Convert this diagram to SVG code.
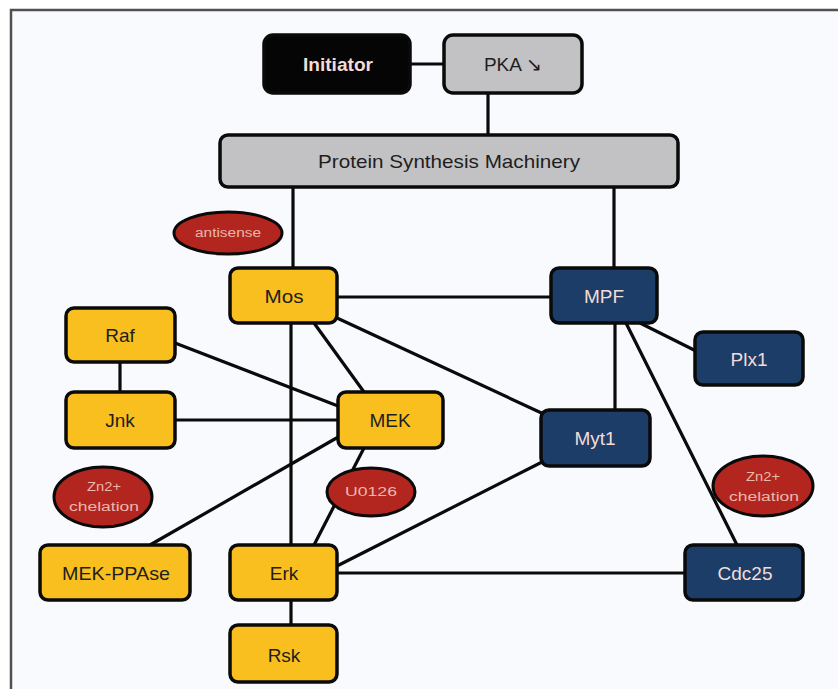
<svg xmlns="http://www.w3.org/2000/svg" width="838" height="689" viewBox="0 0 838 689">
  <style>
    .box { stroke: #0a0a0a; stroke-width: 3.5; }
    .yel { fill: #f9bf1f; }
    .navy { fill: #1b3d68; }
    .gray { fill: #c2c2c4; }
    .blk { fill: #050505; }
    .inh { fill: #b3261f; stroke: #0a0a0a; stroke-width: 3; }
    .t { font-family: "Liberation Sans", Arial, sans-serif; font-size: 19px; text-anchor: middle; dominant-baseline: central; }
    .dark { fill: #1e1e1e; }
    .light { fill: #f4dcd6; }
    .small { font-family: "Liberation Sans", Arial, sans-serif; font-size: 12px; text-anchor: middle; dominant-baseline: central; fill: #e9b8ad; }
    #links line { stroke: #0a0a0a; stroke-width: 3.2; }
  </style>

  <!-- page background and frame -->
  <rect x="0" y="0" width="838" height="689" fill="#ffffff"/>
  <rect x="10" y="9" width="828" height="680" fill="#f9fafd"/>
  <path d="M11 689 V10 H838" fill="none" stroke="#505050" stroke-width="2.5"/>

  <!-- connectors -->
  <g id="links">
    <line x1="410" y1="64" x2="444" y2="64"/>
    <line x1="488" y1="93" x2="488" y2="135"/>
    <line x1="293" y1="187" x2="293" y2="268"/>
    <line x1="614" y1="187" x2="614" y2="268"/>
    <line x1="337" y1="297" x2="551" y2="297"/>
    <line x1="291" y1="323" x2="291" y2="545"/>
    <line x1="314" y1="323" x2="364" y2="392"/>
    <line x1="337" y1="318" x2="548" y2="416"/>
    <line x1="175" y1="343" x2="338" y2="406"/>
    <line x1="120" y1="362" x2="120" y2="392"/>
    <line x1="175" y1="420" x2="338" y2="420"/>
    <line x1="340" y1="436" x2="150" y2="545"/>
    <line x1="364" y1="448" x2="314" y2="545"/>
    <line x1="548" y1="459" x2="337" y2="566"/>
    <line x1="337" y1="573" x2="685" y2="573"/>
    <line x1="291" y1="600" x2="291" y2="625"/>
    <line x1="640" y1="323" x2="700" y2="353"/>
    <line x1="615" y1="323" x2="615" y2="410"/>
    <line x1="626" y1="323" x2="737" y2="545"/>
  </g>

  <!-- nodes -->
  <g id="initiator"><rect class="box blk" x="264" y="35" width="146" height="58" rx="9"/><text class="t light" x="338" y="64" font-weight="bold" font-size="16" textLength="70" lengthAdjust="spacingAndGlyphs">Initiator</text></g>
  <g id="pka"><rect class="box gray" x="444" y="35" width="138" height="58" rx="9"/><text class="t dark" x="513" y="64">PKA ↘</text></g>
  <g id="psm"><rect class="box gray" x="220" y="135" width="458" height="52" rx="8"/><text class="t dark" x="449" y="161" textLength="262" lengthAdjust="spacingAndGlyphs">Protein Synthesis Machinery</text></g>

  <g id="antisense"><ellipse class="inh" cx="228" cy="233" rx="54" ry="21"/><text class="small" x="228" y="233" textLength="66" lengthAdjust="spacingAndGlyphs">antisense</text></g>

  <g id="mos"><rect class="box yel" x="230" y="268" width="107" height="55" rx="8"/><text class="t dark" x="284" y="296" textLength="39" lengthAdjust="spacingAndGlyphs">Mos</text></g>
  <g id="mpf"><rect class="box navy" x="551" y="268" width="106" height="55" rx="8"/><text class="t light" x="604" y="296">MPF</text></g>
  <g id="raf"><rect class="box yel" x="66" y="308" width="109" height="54" rx="8"/><text class="t dark" x="120" y="335">Raf</text></g>
  <g id="plx1"><rect class="box navy" x="695" y="332" width="108" height="53" rx="8"/><text class="t light" x="749" y="359">Plx1</text></g>
  <g id="jnk"><rect class="box yel" x="66" y="392" width="109" height="56" rx="8"/><text class="t dark" x="120" y="420">Jnk</text></g>
  <g id="mek"><rect class="box yel" x="338" y="392" width="105" height="56" rx="8"/><text class="t dark" x="390" y="420">MEK</text></g>
  <g id="myt1"><rect class="box navy" x="541" y="410" width="109" height="56" rx="8"/><text class="t light" x="595" y="438">Myt1</text></g>

  <g id="zn-left"><ellipse class="inh" cx="103" cy="497" rx="49" ry="30"/><text class="small" x="104" y="487" textLength="34" lengthAdjust="spacingAndGlyphs">Zn2+</text><text class="small" x="104" y="507" textLength="70" lengthAdjust="spacingAndGlyphs">chelation</text></g>
  <g id="u0126"><ellipse class="inh" cx="371" cy="492" rx="44" ry="24"/><text class="small" x="371" y="492" font-size="15" textLength="52" lengthAdjust="spacingAndGlyphs">U0126</text></g>
  <g id="zn-right"><ellipse class="inh" cx="763" cy="486" rx="50" ry="30"/><text class="small" x="763" y="477" textLength="34" lengthAdjust="spacingAndGlyphs">Zn2+</text><text class="small" x="764" y="497" textLength="70" lengthAdjust="spacingAndGlyphs">chelation</text></g>

  <g id="mek-ppase"><rect class="box yel" x="40" y="545" width="150" height="55" rx="8"/><text class="t dark" x="116" y="573" textLength="108" lengthAdjust="spacingAndGlyphs">MEK-PPAse</text></g>
  <g id="erk"><rect class="box yel" x="230" y="545" width="107" height="55" rx="8"/><text class="t dark" x="284" y="573">Erk</text></g>
  <g id="cdc25"><rect class="box navy" x="685" y="545" width="118" height="55" rx="8"/><text class="t light" x="745" y="573">Cdc25</text></g>
  <g id="rsk"><rect class="box yel" x="230" y="625" width="107" height="57" rx="8"/><text class="t dark" x="284" y="655">Rsk</text></g>
</svg>
